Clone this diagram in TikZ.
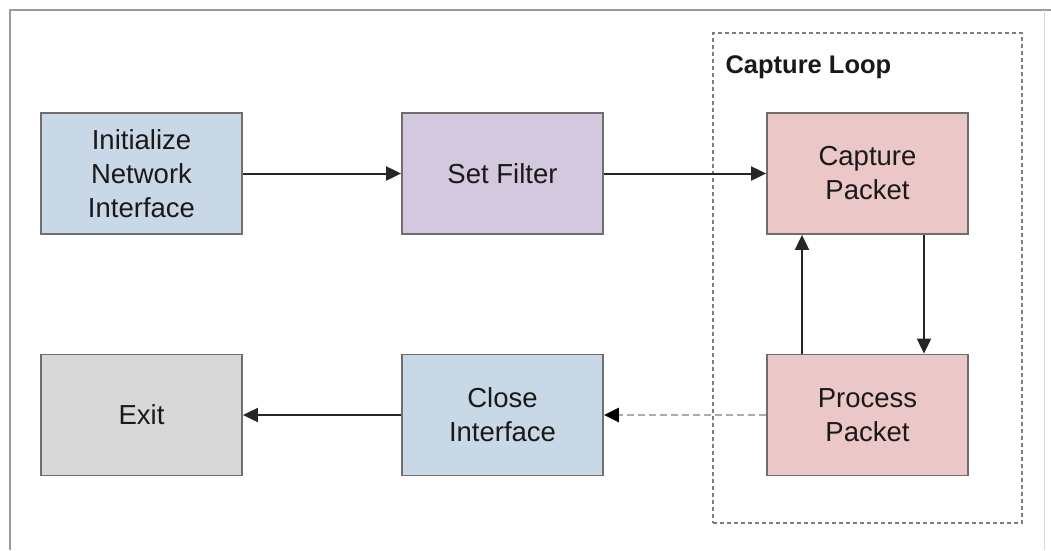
\documentclass[tikz,border=0pt]{standalone}
\usepackage{fontspec}
\setmainfont{Liberation Sans}
\usetikzlibrary{arrows.meta}

\definecolor{boxblue}{HTML}{C9D8E7}
\definecolor{boxpurple}{HTML}{D4C8DF}
\definecolor{boxpink}{HTML}{EBC7C7}
\definecolor{boxgrey}{HTML}{D8D8D8}
\definecolor{edgegrey}{HTML}{6E6E6E}
\definecolor{framegrey}{HTML}{9A9A9A}
\definecolor{arrowdark}{HTML}{262626}
\definecolor{dashgrey}{HTML}{ABABAB}

\tikzset{
  stepbox/.style={draw=edgegrey, line width=1.8pt, minimum width=201pt,
    minimum height=121pt, inner sep=0pt, align=center,
    font=\fontsize{27.5}{34}\selectfont, text=black!90},
  flow/.style={draw=arrowdark, line width=2pt,
    -{Triangle[length=15pt,width=14pt]}},
  weakflow/.style={draw=dashgrey, line width=2.5pt, dash pattern=on 7pt off 4pt,
    -{Triangle[length=15pt,width=14pt,color=black,fill=black]}},
  groupbox/.style={draw=edgegrey!90, line width=1.5pt, dash pattern=on 4pt off 3pt,
    minimum width=309pt, minimum height=490pt, inner sep=0pt},
}

\begin{document}
\begin{tikzpicture}[x=1pt, y=-1pt]
  \useasboundingbox (0,0) rectangle (1051,550);
  \fill[white] (0,0) rectangle (1051,550);

  % outer frame
  \draw[framegrey, line width=2pt] (9.5,550) -- (9.5,9.5) -- (1051,9.5);
  \draw[framegrey!40, line width=1pt] (1044.5,9.5) -- (1044.5,550);

  % capture loop group
  \node[groupbox] (loop) at (867.5,278) {};
  \node[anchor=west, font=\fontsize{25.5}{30}\selectfont\bfseries, text=black!90]
    (looplabel) at (722,67) {Capture Loop};

  % steps
  \node[stepbox, fill=boxblue]   (init)  at (141.5,173.5) {Initialize\\Network\\Interface};
  \node[stepbox, fill=boxpurple] (filt)  at (502.5,173.5) {Set Filter};
  \node[stepbox, fill=boxpink]   (cap)   at (867.5,173.5) {Capture\\Packet};
  \node[stepbox, fill=boxpink]   (proc)  at (867.5,415)   {Process\\Packet};
  \node[stepbox, fill=boxblue]   (close) at (502.5,415)   {Close\\Interface};
  \node[stepbox, fill=boxgrey]   (exit)  at (141.5,415)   {Exit};

  % connectors
  \draw[flow] (init.east) -- (filt.west);
  \draw[flow] (filt.east) -- (cap.west);
  \draw[flow] ([xshift=56.5pt]cap.south) -- ([xshift=56.5pt]proc.north);
  \draw[flow] ([xshift=-65.5pt]proc.north) -- ([xshift=-65.5pt]cap.south);
  \draw[weakflow] (proc.west) -- (close.east);
  \draw[flow] (close.west) -- (exit.east);
\end{tikzpicture}
\end{document}
